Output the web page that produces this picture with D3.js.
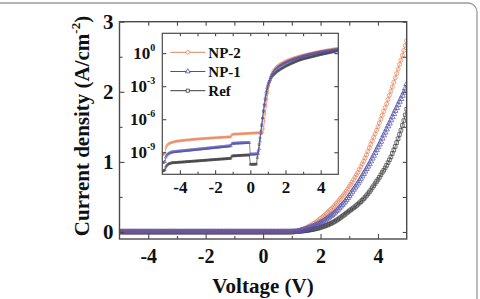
<!DOCTYPE html>
<html><head><meta charset="utf-8">
<script src="https://cdn.jsdelivr.net/npm/d3@7"></script>
<style>
html,body{margin:0;padding:0;background:#fff;}
svg{display:block;}
text{font-family:"Liberation Serif","Times New Roman",serif;font-weight:bold;fill:#111;}
</style></head><body>
<svg id="chart" width="480" height="299"></svg>
<script>
// ---------------- DATA ----------------
const voltage = [
 -5.00,-4.95,-4.90,-4.85,-4.80,-4.75,-4.70,-4.65,-4.60,-4.55,
 -4.50,-4.45,-4.40,-4.35,-4.30,-4.25,-4.20,-4.15,-4.10,-4.05,
 -4.00,-3.95,-3.90,-3.85,-3.80,-3.75,-3.70,-3.65,-3.60,-3.55,
 -3.50,-3.45,-3.40,-3.35,-3.30,-3.25,-3.20,-3.15,-3.10,-3.05,
 -3.00,-2.95,-2.90,-2.85,-2.80,-2.75,-2.70,-2.65,-2.60,-2.55,
 -2.50,-2.45,-2.40,-2.35,-2.30,-2.25,-2.20,-2.15,-2.10,-2.05,
 -2.00,-1.95,-1.90,-1.85,-1.80,-1.75,-1.70,-1.65,-1.60,-1.55,
 -1.50,-1.45,-1.40,-1.35,-1.30,-1.25,-1.20,-1.15,-1.10,-1.05,
 -1.00,-0.95,-0.90,-0.85,-0.80,-0.75,-0.70,-0.65,-0.60,-0.55,
 -0.50,-0.45,-0.40,-0.35,-0.30,-0.25,-0.20,-0.15,-0.10,-0.05,
 0.00,0.05,0.10,0.15,0.20,0.25,0.30,0.35,0.40,0.45,
 0.50,0.55,0.60,0.65,0.70,0.75,0.80,0.85,0.90,0.95,
 1.00,1.05,1.10,1.15,1.20,1.25,1.30,1.35,1.40,1.45,
 1.50,1.55,1.60,1.65,1.70,1.75,1.80,1.85,1.90,1.95,
 2.00,2.05,2.10,2.15,2.20,2.25,2.30,2.35,2.40,2.45,
 2.50,2.55,2.60,2.65,2.70,2.75,2.80,2.85,2.90,2.95,
 3.00,3.05,3.10,3.15,3.20,3.25,3.30,3.35,3.40,3.45,
 3.50,3.55,3.60,3.65,3.70,3.75,3.80,3.85,3.90,3.95,
 4.00,4.05,4.10,4.15,4.20,4.25,4.30,4.35,4.40,4.45,
 4.50,4.55,4.60,4.65,4.70,4.75,4.80,4.85,4.90,4.95,
 5.00
];
// current density (A/cm^2)
const currentNP2 = [
 6.0e-10,6.3e-10,6.6e-10,7.9e-10,2.5e-9,3.8e-9,4.8e-9,5.6e-9,6.3e-9,6.9e-9,
 7.4e-9,7.9e-9,8.3e-9,8.7e-9,9.1e-9,9.5e-9,1.00e-8,1.02e-8,1.05e-8,1.07e-8,
 1.10e-8,1.12e-8,1.15e-8,1.17e-8,1.19e-8,1.22e-8,1.24e-8,1.27e-8,1.29e-8,1.32e-8,
 1.34e-8,1.36e-8,1.39e-8,1.41e-8,1.44e-8,1.46e-8,1.49e-8,1.51e-8,1.53e-8,1.56e-8,
 1.58e-8,1.61e-8,1.63e-8,1.66e-8,1.68e-8,1.70e-8,1.73e-8,1.75e-8,1.78e-8,1.80e-8,
 1.83e-8,1.85e-8,1.87e-8,1.90e-8,1.92e-8,1.95e-8,1.97e-8,2.00e-8,2.02e-8,2.04e-8,
 2.07e-8,2.09e-8,2.12e-8,2.14e-8,2.17e-8,2.19e-8,2.21e-8,2.24e-8,2.26e-8,2.29e-8,
 2.31e-8,2.34e-8,2.36e-8,2.38e-8,2.41e-8,2.43e-8,2.46e-8,2.48e-8,2.51e-8,3.98e-8,
 4.27e-8,4.32e-8,4.37e-8,4.42e-8,4.48e-8,4.53e-8,4.58e-8,4.63e-8,4.68e-8,4.74e-8,
 4.79e-8,4.84e-8,4.89e-8,4.94e-8,5.00e-8,5.05e-8,5.10e-8,5.15e-8,5.20e-8,5.26e-8,
 5.31e-8,5.36e-8,5.41e-8,5.46e-8,5.52e-8,5.57e-8,5.62e-8,5.67e-8,5.72e-8,5.78e-8,
 5.83e-8,5.88e-8,5.93e-8,5.98e-8,6.03e-8,1.26e-7,6.3e-7,3.2e-6,1.6e-5,6.3e-5,
 2.5e-4,1.0e-3,3.2e-3,7.1e-3,0.012,0.018,0.025,0.032,0.040,0.050,
 0.060,0.070,0.080,0.092,0.105,0.118,0.130,0.143,0.157,0.173,
 0.190,0.207,0.225,0.242,0.260,0.280,0.300,0.320,0.340,0.360,
 0.385,0.407,0.430,0.455,0.480,0.505,0.530,0.557,0.585,0.615,
 0.650,0.680,0.710,0.745,0.780,0.815,0.850,0.890,0.930,0.970,
 1.010,1.055,1.100,1.150,1.200,1.250,1.300,1.350,1.400,1.450,
 1.500,1.555,1.610,1.665,1.720,1.775,1.830,1.890,1.950,2.010,
 2.070,2.135,2.200,2.260,2.325,2.390,2.450,2.520,2.590,2.660,
 2.730
];
const currentNP1 = [
 1.12e-10,1.17e-10,1.26e-10,1.41e-10,3.5e-10,5.0e-10,6.3e-10,7.4e-10,8.3e-10,9.1e-10,
 9.8e-10,1.02e-9,1.07e-9,1.09e-9,1.11e-9,1.13e-9,1.16e-9,1.18e-9,1.20e-9,1.22e-9,
 1.25e-9,1.27e-9,1.30e-9,1.32e-9,1.35e-9,1.37e-9,1.40e-9,1.43e-9,1.45e-9,1.48e-9,
 1.51e-9,1.54e-9,1.57e-9,1.60e-9,1.63e-9,1.66e-9,1.70e-9,1.73e-9,1.76e-9,1.80e-9,
 1.83e-9,1.87e-9,1.90e-9,1.94e-9,1.98e-9,2.02e-9,2.06e-9,2.10e-9,2.14e-9,2.18e-9,
 2.22e-9,2.27e-9,2.31e-9,2.36e-9,2.40e-9,2.45e-9,2.50e-9,2.55e-9,2.60e-9,2.64e-9,
 2.69e-9,2.75e-9,2.80e-9,2.86e-9,2.91e-9,2.97e-9,3.02e-9,3.08e-9,3.14e-9,3.20e-9,
 3.26e-9,3.32e-9,3.38e-9,3.45e-9,3.52e-9,3.59e-9,3.66e-9,3.73e-9,3.80e-9,6.0e-9,
 6.31e-9,6.38e-9,6.45e-9,6.52e-9,6.58e-9,6.65e-9,6.72e-9,6.79e-9,6.86e-9,6.92e-9,
 6.99e-9,7.06e-9,7.13e-9,7.20e-9,7.26e-9,7.33e-9,7.40e-9,7.47e-9,7.54e-9,7.60e-9,
 6.6e-10,6.6e-10,6.6e-10,6.7e-10,6.7e-10,6.8e-10,6.8e-10,6.9e-10,6.9e-10,7.5e-10,
 2.0e-9,1.0e-8,5.0e-8,2.5e-7,1.26e-6,6.3e-6,2.5e-5,8.9e-5,2.8e-4,7.1e-4,
 1.4e-3,2.5e-3,3.5e-3,6.0e-3,9.0e-3,0.012,0.017,0.022,0.028,0.034,
 0.040,0.047,0.055,0.063,0.071,0.080,0.089,0.098,0.108,0.119,
 0.130,0.142,0.155,0.168,0.182,0.197,0.212,0.228,0.245,0.262,
 0.280,0.300,0.320,0.342,0.365,0.388,0.410,0.435,0.460,0.487,
 0.515,0.545,0.575,0.605,0.635,0.665,0.695,0.727,0.760,0.795,
 0.830,0.865,0.900,0.935,0.970,1.010,1.050,1.090,1.130,1.170,
 1.210,1.250,1.290,1.335,1.380,1.420,1.465,1.510,1.550,1.595,
 1.640,1.685,1.730,1.770,1.815,1.860,1.900,1.945,1.990,2.050,
 2.110
];
const currentRef = [
 2.0e-11,2.1e-11,2.2e-11,2.5e-11,4.5e-11,6.0e-11,7.4e-11,8.5e-11,9.3e-11,1.00e-10,
 1.05e-10,1.10e-10,1.12e-10,1.14e-10,1.15e-10,1.17e-10,1.19e-10,1.20e-10,1.22e-10,1.24e-10,
 1.25e-10,1.27e-10,1.29e-10,1.30e-10,1.32e-10,1.34e-10,1.36e-10,1.38e-10,1.40e-10,1.42e-10,
 1.44e-10,1.46e-10,1.48e-10,1.50e-10,1.52e-10,1.54e-10,1.56e-10,1.58e-10,1.61e-10,1.63e-10,
 1.65e-10,1.68e-10,1.70e-10,1.72e-10,1.75e-10,1.77e-10,1.80e-10,1.82e-10,1.85e-10,1.88e-10,
 1.90e-10,1.93e-10,1.96e-10,1.98e-10,2.01e-10,2.04e-10,2.07e-10,2.10e-10,2.13e-10,2.16e-10,
 2.19e-10,2.22e-10,2.25e-10,2.29e-10,2.32e-10,2.35e-10,2.38e-10,2.41e-10,2.45e-10,2.48e-10,
 2.51e-10,2.55e-10,2.58e-10,2.62e-10,2.66e-10,2.70e-10,2.74e-10,2.78e-10,2.82e-10,4.5e-10,
 4.68e-10,4.74e-10,4.79e-10,4.85e-10,4.91e-10,4.96e-10,5.02e-10,5.08e-10,5.13e-10,5.19e-10,
 5.24e-10,5.30e-10,5.36e-10,5.41e-10,5.47e-10,5.52e-10,5.58e-10,5.64e-10,5.69e-10,5.75e-10,
 7.9e-11,8.0e-11,8.0e-11,8.1e-11,8.1e-11,8.2e-11,8.2e-11,8.3e-11,3.2e-10,1.26e-9,
 5.0e-9,2.0e-8,7.9e-8,3.2e-7,1.26e-6,5.0e-6,1.8e-5,5.6e-5,1.6e-4,4.0e-4,
 8.9e-4,1.6e-3,2.5e-3,4.0e-3,6.3e-3,0.008,0.010,0.012,0.014,0.017,
 0.020,0.023,0.026,0.030,0.034,0.038,0.042,0.047,0.052,0.058,
 0.065,0.071,0.078,0.085,0.093,0.101,0.110,0.120,0.130,0.140,
 0.152,0.165,0.178,0.192,0.207,0.222,0.237,0.252,0.268,0.284,
 0.300,0.315,0.330,0.345,0.360,0.377,0.395,0.413,0.432,0.452,
 0.473,0.495,0.520,0.545,0.570,0.598,0.630,0.660,0.690,0.720,
 0.750,0.780,0.815,0.850,0.880,0.915,0.950,0.990,1.030,1.070,
 1.120,1.170,1.220,1.275,1.330,1.390,1.450,1.520,1.590,1.670,
 1.750
];
const seriesNames = ["NP-2", "NP-1", "Ref"];
const mainXTicks = [-4, -2, 0, 2, 4];
const mainXMinor = [-3, -1, 1, 3];
const mainYTicks = [0, 1, 2, 3];
const mainYMinor = [0.5, 1.5, 2.5];
const insetXTicks = [-4, -2, 0, 2, 4];
const insetXMinor = [-3, -1, 1, 3];
const insetYExponents = [0, -3, -6, -9];
const xTitle = "Voltage (V)";
const yTitle = "Current density (A/cm";

// ---------------- STYLE / LAYOUT ----------------
const colors = {"NP-2": "#e4835a", "NP-1": "#4f4fa8", "Ref": "#3c3c3c"};
const symbols = {"NP-2": d3.symbolCircle, "NP-1": d3.symbolTriangle, "Ref": d3.symbolSquare};
const valuesBy = {"NP-2": currentNP2, "NP-1": currentNP1, "Ref": currentRef};
const drawOrder = ["Ref", "NP-2", "NP-1"];
const axisColor = "#4a4a4a";

const svg = d3.select("#chart");
svg.append("rect").attr("x", -10).attr("y", 3).attr("width", 487).attr("height", 320)
  .attr("rx", 9).attr("fill", "none").attr("stroke", "#9a9a9a").attr("stroke-width", 1.3);

const M = {left: 119.5, right: 406.7, top: 21.7, bottom: 239};
const x = d3.scaleLinear().domain([-5, 5]).range([M.left, M.right]);
const y = d3.scaleLinear().domain([-0.1, 3]).range([M.bottom, M.top]);

function styleAxis(g, fs) {
  g.attr("font-family", null).attr("font-size", null);
  g.select(".domain").remove();
  g.selectAll(".tick line").attr("stroke", axisColor).attr("stroke-width", 1.1);
  g.selectAll("text").style("font-size", fs + "px").attr("fill", "#111");
}

// main data
const defs = svg.append("defs");
defs.append("clipPath").attr("id", "mainClip").append("rect")
  .attr("x", M.left).attr("y", M.top).attr("width", M.right - M.left).attr("height", M.bottom - M.top);

const mainG = svg.append("g").attr("clip-path", "url(#mainClip)");
drawOrder.forEach(name => {
  const vals = valuesBy[name];
  const pts = voltage.map((v, i) => [v, vals[i]]);
  mainG.append("path").datum(pts)
    .attr("d", d3.line().x(d => x(d[0])).y(d => y(d[1])))
    .attr("fill", "none").attr("stroke", colors[name]).attr("stroke-width", 0.7);
  const sym = d3.symbol().type(symbols[name]).size(name === "NP-1" ? 14 : 13);
  mainG.selectAll(null).data(pts).enter().append("path")
    .attr("d", sym).attr("transform", d => `translate(${x(d[0])},${y(d[1])})`)
    .attr("fill", "none").attr("stroke", colors[name]).attr("stroke-width", 0.7);
});

// main axes
svg.append("g").attr("transform", `translate(0,${M.bottom})`)
  .call(d3.axisBottom(x).tickValues(mainXTicks).tickSize(-5).tickPadding(10).tickFormat(d => String(d)))
  .call(g => styleAxis(g, 20));
svg.append("g").attr("transform", `translate(0,${M.bottom})`)
  .call(d3.axisBottom(x).tickValues(mainXMinor).tickSize(-3).tickFormat(""))
  .call(g => styleAxis(g, 20));
svg.append("g").attr("transform", `translate(0,${M.top})`)
  .call(d3.axisTop(x).tickValues(mainXTicks.concat(mainXMinor)).tickSize(-4).tickFormat(""))
  .call(g => styleAxis(g, 20));
svg.append("g").attr("transform", `translate(${M.left},0)`)
  .call(d3.axisLeft(y).tickValues(mainYTicks).tickSize(-5).tickPadding(6).tickFormat(d => String(d)))
  .call(g => styleAxis(g, 21));
svg.append("g").attr("transform", `translate(${M.left},0)`)
  .call(d3.axisLeft(y).tickValues(mainYMinor).tickSize(-3).tickFormat(""))
  .call(g => styleAxis(g, 20));
svg.append("g").attr("transform", `translate(${M.right},0)`)
  .call(d3.axisRight(y).tickValues(mainYTicks.concat(mainYMinor)).tickSize(-4).tickFormat(""))
  .call(g => styleAxis(g, 20));
svg.append("rect").attr("x", M.left).attr("y", M.top).attr("width", M.right - M.left)
  .attr("height", M.bottom - M.top).attr("fill", "none").attr("stroke", axisColor).attr("stroke-width", 1.4);

// titles
svg.append("text").attr("x", 263).attr("y", 293).attr("text-anchor", "middle")
  .style("font-size", "21px").text(xTitle);
const yt = svg.append("text").attr("transform", "translate(89,126) rotate(-90)")
  .attr("text-anchor", "middle").style("font-size", "21px");
yt.append("tspan").text(yTitle);
yt.append("tspan").attr("dy", -9).style("font-size", "13px").text("-2");
yt.append("tspan").attr("dy", 9).text(")");

// ---------------- INSET ----------------
const I = {left: 162.3, right: 338.3, top: 33.3, bottom: 174.3};
const xi = d3.scaleLinear().domain([-5, 5]).range([I.left, I.right]);
const yi = d3.scaleLog().domain([1e-11, Math.pow(10, 1.8)]).range([I.bottom, I.top]);

svg.append("rect").attr("x", I.left).attr("y", I.top).attr("width", I.right - I.left)
  .attr("height", I.bottom - I.top).attr("fill", "#fff");
defs.append("clipPath").attr("id", "insetClip").append("rect")
  .attr("x", I.left).attr("y", I.top).attr("width", I.right - I.left).attr("height", I.bottom - I.top);
const insG = svg.append("g").attr("clip-path", "url(#insetClip)");
drawOrder.forEach(name => {
  const vals = valuesBy[name];
  const pts = voltage.map((v, i) => [v, vals[i]]);
  insG.append("path").datum(pts)
    .attr("d", d3.line().x(d => xi(d[0])).y(d => yi(d[1])))
    .attr("fill", "none").attr("stroke", colors[name]).attr("stroke-width", 0.7);
  const sym = d3.symbol().type(symbols[name]).size(3.5);
  insG.selectAll(null).data(pts).enter().append("path")
    .attr("d", sym).attr("transform", d => `translate(${xi(d[0])},${yi(d[1])})`)
    .attr("fill", "none").attr("stroke", colors[name]).attr("stroke-width", 0.5);
});

svg.append("g").attr("transform", `translate(0,${I.bottom})`)
  .call(d3.axisBottom(xi).tickValues(insetXTicks).tickSize(-4).tickPadding(7).tickFormat(d => String(d)))
  .call(g => styleAxis(g, 17));
svg.append("g").attr("transform", `translate(0,${I.bottom})`)
  .call(d3.axisBottom(xi).tickValues(insetXMinor).tickSize(-2.5).tickFormat(""))
  .call(g => styleAxis(g, 16));
svg.append("g").attr("transform", `translate(0,${I.top})`)
  .call(d3.axisTop(xi).tickValues(insetXTicks.concat(insetXMinor)).tickSize(-3).tickFormat(""))
  .call(g => styleAxis(g, 16));
const yiTickVals = insetYExponents.map(e => Math.pow(10, e));
svg.append("g").attr("transform", `translate(${I.left},0)`)
  .call(d3.axisLeft(yi).tickValues(yiTickVals).tickSize(-4).tickFormat(""))
  .call(g => styleAxis(g, 16));
svg.append("g").attr("transform", `translate(${I.right},0)`)
  .call(d3.axisRight(yi).tickValues(yiTickVals).tickSize(-4).tickFormat(""))
  .call(g => styleAxis(g, 16));
insetYExponents.forEach(e => {
  const t = svg.append("text").attr("x", I.left - 7).attr("y", yi(Math.pow(10, e)))
    .attr("dy", "0.34em").attr("text-anchor", "end").style("font-size", "17px");
  t.append("tspan").text("10");
  t.append("tspan").attr("dy", -8).style("font-size", "10px").text(String(e));
});
svg.append("rect").attr("x", I.left).attr("y", I.top).attr("width", I.right - I.left)
  .attr("height", I.bottom - I.top).attr("fill", "none").attr("stroke", axisColor).attr("stroke-width", 1.2);

// legend
seriesNames.forEach((name, k) => {
  const ly = I.top + 19 + k * 19.2;
  const lg = svg.append("g");
  lg.append("line").attr("x1", I.left + 8).attr("x2", I.left + 43).attr("y1", ly).attr("y2", ly)
    .attr("stroke", colors[name]).attr("stroke-width", 1);
  lg.append("path").attr("d", d3.symbol().type(symbols[name]).size(10))
    .attr("transform", `translate(${I.left + 25.5},${ly})`)
    .attr("fill", "#fff").attr("stroke", colors[name]).attr("stroke-width", 0.8);
  lg.append("text").attr("x", I.left + 46).attr("y", ly).attr("dy", "0.35em")
    .style("font-size", "15px").text(name);
});
</script>
</body></html>
